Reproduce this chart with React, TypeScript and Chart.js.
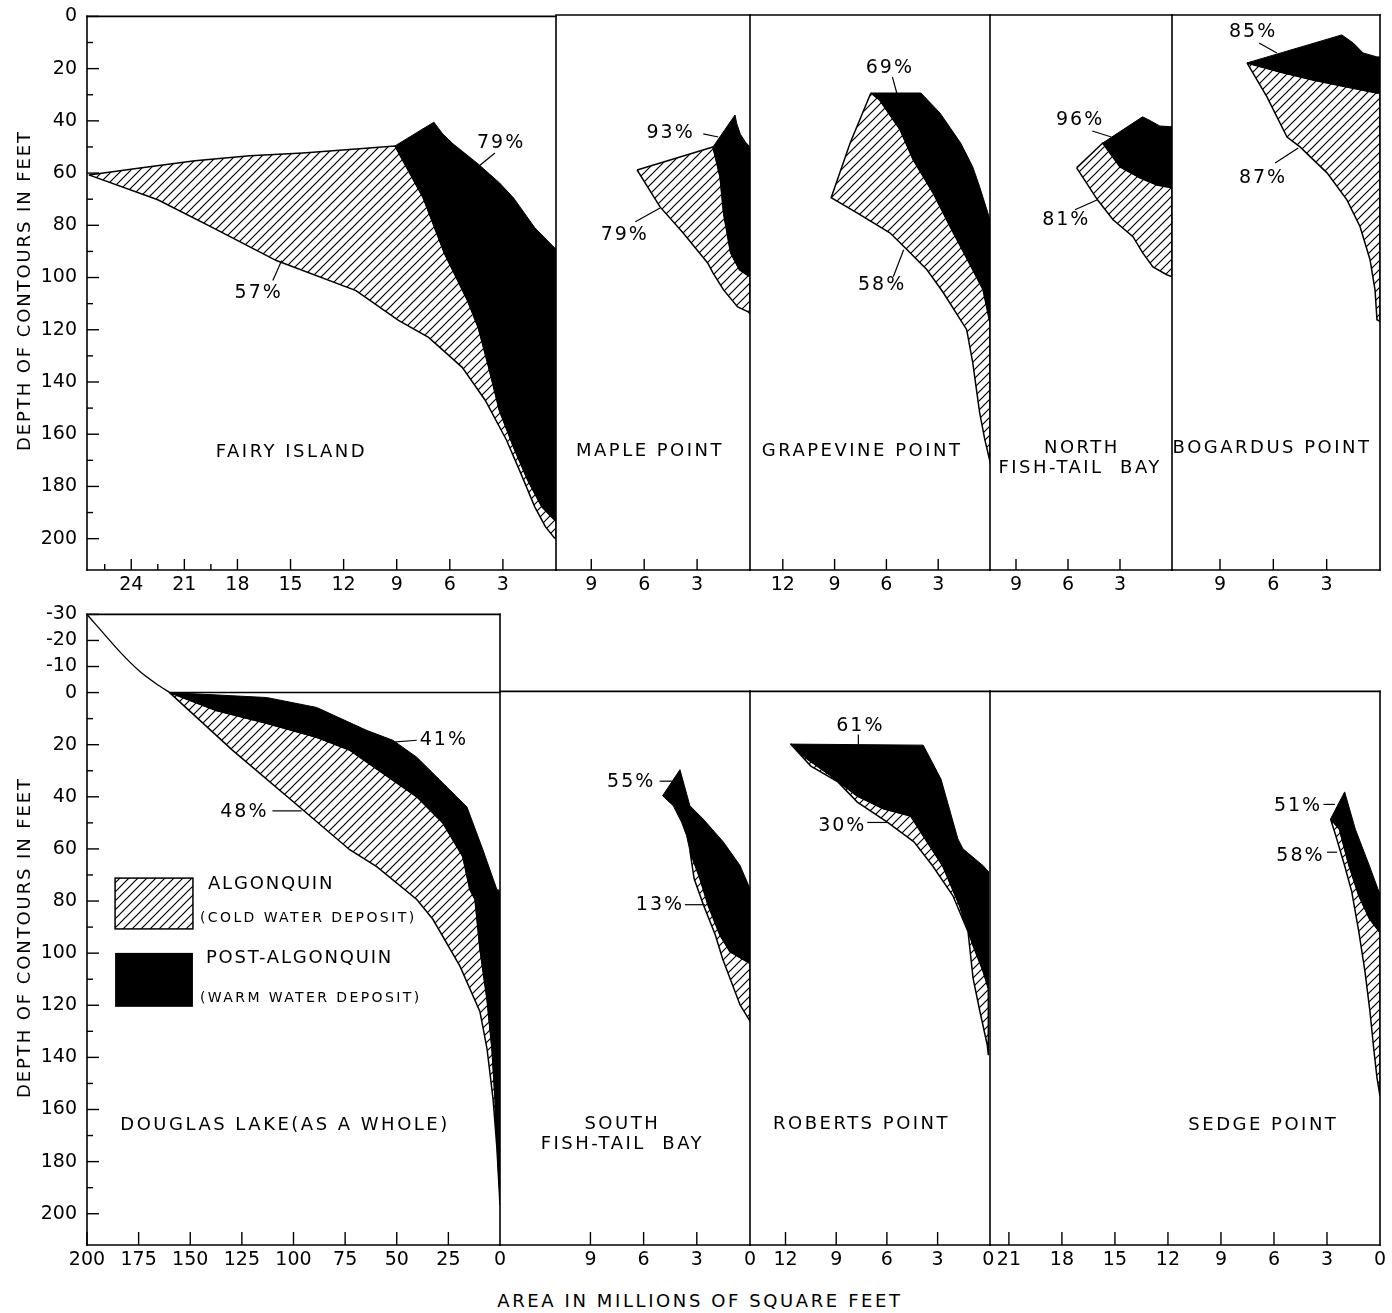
import React, { useEffect, useRef } from 'react';
import { Chart, registerables } from 'chart.js';

Chart.register(...registerables);

type Pt = [number, number];
const FONT = '"DejaVu Sans", "Liberation Sans", sans-serif';

// ---------------- tick values ----------------
const depthTicksTop = [0, 10, 20, 30, 40, 50, 60, 70, 80, 90, 100, 110, 120, 130, 140, 150, 160, 170, 180, 190, 200];
const depthLabelsTop = [0, 20, 40, 60, 80, 100, 120, 140, 160, 180, 200];
const depthTicksBottom = [-30, -20, -10, 0, 10, 20, 30, 40, 50, 60, 70, 80, 90, 100, 110, 120, 130, 140, 150, 160, 170, 180, 190, 200];
const depthLabelsBottom = [-30, -20, -10, 0, 20, 40, 60, 80, 100, 120, 140, 160, 180, 200];

const fairyTicks = [24, 21, 18, 15, 12, 9, 6, 3];
const fairyMinorTicks = [25.5, 22.5, 19.5];
const mapleTicks = [9, 6, 3];
const grapeTicks = [12, 9, 6, 3];
const nftbTicks = [9, 6, 3];
const bogTicks = [9, 6, 3];
const douglasTicks = [200, 175, 150, 125, 100, 75, 50, 25, 0];
const sftbTicks = [9, 6, 3, 0];
const robTicks = [12, 9, 6, 3, 0];
const sedgeTicks = [21, 18, 15, 12, 9, 6, 3, 0];

// ---------------- data: [area (millions sq ft), depth (ft)] ----------------
// Fairy Island
const fairyAlgUpper: Pt[] = [[26.4, 60.7], [23.4, 58], [20.4, 55.3], [17.3, 53.4], [14.3, 52.3], [11.3, 50.8], [9.1, 49.6], [7.5, 69.5], [6.3, 90.8], [5.0, 108.8], [4.4, 119], [3.8, 134.4], [3.2, 150.8], [2.4, 164.9], [1.6, 177.5], [0.8, 187.8], [0.1, 192.7], [0, 193]];
const fairyAlgLower: Pt[] = [[26.4, 60.7], [22.5, 70.2], [19.4, 80.9], [15.8, 93.5], [11.3, 105], [8.9, 116.4], [7.2, 122.9], [5.3, 134.4], [4.0, 147], [2.8, 162.2], [2.0, 174.8], [1.2, 187.8], [0.6, 195.4], [0.1, 199.6], [0, 200]];
const fairyPostTop: Pt[] = [[9.1, 49.6], [6.9, 40.5], [6.4, 45], [5.8, 48.9], [4.4, 56.5], [3.2, 63.7], [2.4, 69.5], [1.2, 80.9], [0.1, 88.5], [0, 89]];
const fairyPostBottom: Pt[] = [[9.1, 49.6], [7.5, 69.5], [6.3, 90.8], [5.0, 108.8], [4.4, 119], [3.8, 134.4], [3.2, 150.8], [2.4, 164.9], [1.6, 177.5], [0.8, 187.8], [0.1, 192.7], [0, 193]];

// Maple Point
const mapleAlgUpper: Pt[] = [[6.4, 59.2], [2.1, 50.4], [1.7, 61.8], [1.5, 75.6], [1.1, 90.8], [0.6, 97.3], [0, 100]];
const mapleAlgLower: Pt[] = [[6.4, 59.2], [5.1, 73.3], [3.8, 83.2], [2.4, 94.7], [2.1, 98.5], [1.5, 105], [0.7, 111.5], [0.1, 113.4], [0, 114]];
const maplePostTop: Pt[] = [[2.1, 50.4], [0.85, 38.2], [0.75, 41.5], [0.55, 45.5], [0.25, 48.6], [0, 50.4]];
const maplePostBottom: Pt[] = [[2.1, 50.4], [1.7, 61.8], [1.5, 75.6], [1.1, 90.8], [0.6, 97.3], [0, 100]];

// Grapevine Point
const grapeAlgUpper: Pt[] = [[6.9, 29.8], [6.4, 32.4], [5.2, 43.9], [4.45, 55.3], [3.3, 67.9], [2.3, 80.9], [1.3, 93.5], [0.4, 104.9], [0, 117.6]];
const grapeAlgLower: Pt[] = [[6.9, 29.8], [8.1, 48.9], [9.2, 69.8], [7.7, 75.6], [5.8, 83.2], [4.8, 89.7], [3.65, 97.3], [2.7, 106.1], [1.35, 120.2], [1.0, 132.8], [0.6, 151.9], [0.3, 162.2], [0, 170.6]];
const grapePostTop: Pt[] = [[6.9, 29.8], [4.0, 29.8], [2.9, 37.4], [1.7, 48.9], [1.0, 58], [0.6, 65.6], [0, 78.2]];
const grapePostBottom: Pt[] = [[6.9, 29.8], [6.4, 32.4], [5.2, 43.9], [4.45, 55.3], [3.3, 67.9], [2.3, 80.9], [1.3, 93.5], [0.4, 104.9], [0, 117.6]];

// North Fish-Tail Bay
const nftbAlgUpper: Pt[] = [[5.5, 58.4], [4.0, 48.9], [3.0, 58], [1.85, 62.2], [0.87, 64.9], [0, 66]];
const nftbAlgLower: Pt[] = [[5.5, 58.4], [4.3, 70.6], [3.4, 78.2], [2.25, 84.7], [1.7, 90.8], [1.1, 96.2], [0.3, 99.2], [0, 100]];
const nftbPostTop: Pt[] = [[4.0, 48.9], [1.7, 38.9], [1.3, 40.2], [0.7, 42.4], [0, 42.7]];
const nftbPostBottom: Pt[] = [[4.0, 48.9], [3.0, 58], [1.85, 62.2], [0.87, 64.9], [0, 66]];

// Bogardus Point
const bogAlgUpper: Pt[] = [[7.48, 18.3], [5.62, 21.8], [3.77, 24.8], [1.86, 27.5], [0.17, 29.8], [0, 29.8]];
const bogAlgLower: Pt[] = [[7.48, 18.3], [6.36, 31.3], [5.23, 46.6], [4.5, 50.4], [2.98, 60.3], [1.86, 70.6], [1.12, 80.9], [0.56, 93.5], [0.28, 105], [0.17, 116.4], [0, 117]];
const bogPostTop: Pt[] = [[7.48, 18.3], [2.15, 7.6], [1.5, 10.7], [0.95, 14.5], [0.17, 16], [0, 16]];
const bogPostBottom: Pt[] = [[7.48, 18.3], [5.62, 21.8], [3.77, 24.8], [1.86, 27.5], [0.17, 29.8], [0, 29.8]];

// Douglas Lake (as a whole)
const douglasAbove: Pt[] = [[200, -30], [184.5, -16], [174.8, -8.4], [166.5, -3.4], [160, 0]];
const douglasPostTop: Pt[] = [[160, 0], [113, 1.9], [88.8, 5.7], [64.6, 14.5], [51.9, 18.3], [40.3, 24.8], [27.7, 34.7], [16, 43.9], [8.3, 60.3], [1.5, 75.6], [0, 76]];
const douglasPostBottom: Pt[] = [[160, 0], [137.4, 6.9], [113.1, 11.8], [88.8, 17.2], [72.8, 22.1], [56.8, 30.9], [40.3, 40], [27.7, 50], [18, 63], [14.6, 75.6], [12.1, 79.4], [9.7, 98.5], [6.3, 117.6], [3.9, 136.6], [2.4, 155.7], [1.0, 181.3], [0, 194]];
const douglasAlgUpper: Pt[] = douglasPostBottom;
const douglasAlgLower: Pt[] = [[160, 0], [129.6, 22.1], [97.1, 43.9], [72.8, 60.3], [59.7, 66.8], [40.3, 79.4], [32.5, 87], [19.4, 105], [9.7, 122.5], [6.3, 136.6], [3.4, 155.7], [1.5, 174.8], [0, 196.6]];

// South Fish-Tail Bay
const sftbPostTop: Pt[] = [[4.93, 40], [3.95, 30], [3.39, 43.8], [2.64, 48.9], [1.5, 57.7], [0.56, 66.7], [0, 75.6]];
const sftbPostBottom: Pt[] = [[4.93, 40], [4.33, 43.8], [3.86, 50.1], [3.58, 55.2], [3.39, 61], [2.82, 71.8], [2.36, 81.9], [1.69, 93.4], [1.13, 99.7], [0, 104.2]];
const sftbAlgUpper: Pt[] = [[3.39, 61], [2.82, 71.8], [2.36, 81.9], [1.69, 93.4], [1.13, 99.7], [0, 104.2]];
const sftbAlgLower: Pt[] = [[3.39, 61], [3.15, 71.8], [2.62, 81.9], [1.95, 93.4], [1.55, 102.3], [1.13, 109.9], [0.56, 120.1], [0, 126.3]];

// Roberts Point
const robPostTop: Pt[] = [[11.7, 20.2], [3.85, 20.6], [2.8, 33.6], [1.8, 56.5], [1.5, 60.3], [0.3, 66.8], [0, 69]];
const robPostBottom: Pt[] = [[11.7, 20.2], [10.7, 26], [9.3, 32.4], [7.75, 40.1], [6.2, 45], [4.6, 47.7], [3.85, 55.3], [2.7, 66.8], [1.7, 82.1], [0.9, 97.3], [0.3, 107.3], [0, 113.7]];
const robAlgUpper: Pt[] = robPostBottom;
const robAlgLower: Pt[] = [[11.7, 20.2], [10.5, 28.6], [8.9, 34.7], [7.75, 42.4], [6.0, 50], [4.4, 57.6], [3.3, 66.8], [2.1, 78.2], [1.2, 92], [0.9, 109.9], [0.5, 122.5], [0.06, 135.5], [0, 139.3]];

// Sedge Point
const sedgePostTop: Pt[] = [[2.8, 48.9], [2.0, 38.5], [1.4, 52.7], [0.6, 66.8], [0.06, 76.7], [0, 77]];
const sedgePostBottom: Pt[] = [[2.8, 48.9], [2.3, 52.7], [1.75, 66.8], [1.2, 78.2], [0.6, 87], [0, 92.4]];
const sedgeAlgUpper: Pt[] = sedgePostBottom;
const sedgeAlgLower: Pt[] = [[2.8, 48.9], [2.5, 55.3], [2.0, 66.8], [1.6, 76.7], [1.2, 92], [0.85, 107.3], [0.57, 122.5], [0.34, 137.8], [0.17, 148], [0, 155]];

// ---------------- percentage notes: text, label (x,y), leader (x1,y1,x2,y2) ----------------
type Note = { t: string; x: number; y: number; l: [number, number, number, number] };
const fairyNotes: Note[] = [
  { t: '79%', x: 3.1, y: 48.5, l: [3.45, 52.3, 4.35, 57.3] },
  { t: '57%', x: 16.8, y: 106, l: [16.0, 101.1, 15.5, 93.5] },
];
const mapleNotes: Note[] = [
  { t: '93%', x: 4.5, y: 45, l: [2.65, 45.4, 1.8, 46.6] },
  { t: '79%', x: 7.1, y: 84, l: [6.5, 79, 5.1, 73.7] },
];
const grapeNotes: Note[] = [
  { t: '69%', x: 5.8, y: 20.2, l: [5.65, 23.7, 5.4, 29.8] },
  { t: '58%', x: 6.25, y: 103, l: [5.6, 100, 5.0, 89.7] },
];
const nftbNotes: Note[] = [
  { t: '96%', x: 5.3, y: 40.1, l: [4.6, 44.3, 3.5, 46.6] },
  { t: '81%', x: 6.1, y: 78.2, l: [5.6, 74.4, 4.3, 70.6] },
];
const bogNotes: Note[] = [
  { t: '85%', x: 7.14, y: 6.5, l: [6.8, 10.7, 5.8, 14.5] },
  { t: '87%', x: 6.58, y: 62.2, l: [5.9, 56.5, 4.6, 50.8] },
];
const douglasNotes: Note[] = [
  { t: '41%', x: 27.2, y: 18.3, l: [40.3, 18.3, 53.4, 19.1] },
  { t: '48%', x: 123.8, y: 45.8, l: [110.2, 45.4, 96.1, 45.4] },
];
const sftbNotes: Note[] = [
  { t: '55%', x: 6.7, y: 34.7, l: [5.1, 34.4, 4.35, 34.4] },
  { t: '13%', x: 5.08, y: 82, l: [3.67, 81.7, 2.54, 81.7] },
];
const robNotes: Note[] = [
  { t: '61%', x: 7.57, y: 13.4, l: [7.69, 16.5, 7.69, 20.3] },
  { t: '30%', x: 8.64, y: 51.7, l: [7.16, 50.2, 5.98, 50.2] },
];
const sedgeNotes: Note[] = [
  { t: '51%', x: 4.64, y: 44, l: [3.2, 43.3, 2.55, 43.3] },
  { t: '58%', x: 4.5, y: 63.2, l: [3.0, 61.6, 2.43, 61.6] },
];

// ---------------- panel names ----------------
type Name = { t: string; x: number; y: number };
const fairyName: Name[] = [{ t: 'FAIRY ISLAND', x: 14.95, y: 166.9 }];
const mapleName: Name[] = [{ t: 'MAPLE POINT', x: 5.67, y: 166.5 }];
const grapeName: Name[] = [{ t: 'GRAPEVINE POINT', x: 7.41, y: 166.5 }];
const nftbName: Name[] = [{ t: 'NORTH', x: 5.2, y: 165.6 }, { t: 'FISH-TAIL  BAY', x: 5.3, y: 173.3 }];
const bogName: Name[] = [{ t: 'BOGARDUS POINT', x: 6.07, y: 165.4 }];
const douglasName: Name[] = [{ t: 'DOUGLAS LAKE(AS A WHOLE)', x: 104.1, y: 166.2 }];
const sftbName: Name[] = [{ t: 'SOUTH', x: 7.2, y: 165.8 }, { t: 'FISH-TAIL  BAY', x: 7.2, y: 173.4 }];
const robName: Name[] = [{ t: 'ROBERTS POINT', x: 7.5, y: 165.8 }];
const sedgeName: Name[] = [{ t: 'SEDGE POINT', x: 6.6, y: 166.2 }];

// legend (in Douglas panel coordinates)
const legendHatchBox = [186.4, 71.2, 148.7, 90.7];
const legendPostBox = [186.4, 99.9, 148.7, 120.6];
const legendTexts = [
  { t: 'ALGONQUIN', x: 141.4, y: 73.5, size: 18 },
  { t: '(COLD WATER DEPOSIT)', x: 145.3, y: 86.5, size: 14 },
  { t: 'POST-ALGONQUIN', x: 142.4, y: 101.8, size: 18 },
  { t: '(WARM WATER DEPOSIT)', x: 145.3, y: 117.2, size: 14 },
];

// ---------------- layout ----------------
type Row = { top: number; bottom: number; yMin: number; yMax: number; yTicks: number[]; yLabels: number[]; tickLen: number; titleDepth: number };
const ROW1: Row = { top: 15, bottom: 570, yMin: 0, yMax: 212, yTicks: depthTicksTop, yLabels: depthLabelsTop, tickLen: 11, titleDepth: 105 };
const ROW2: Row = { top: 613, bottom: 1245, yMin: -30, yMax: 212, yTicks: depthTicksBottom, yLabels: depthLabelsBottom, tickLen: 13, titleDepth: 94 };

type PanelCfg = {
  id: string; row: Row; left: number; right: number; xMin: number; xMax: number; showY: boolean;
  xTicks: number[]; xMinor?: number[]; frameTop: number; zeroFrom?: number;
  algUpper: Pt[]; algLower: Pt[]; postTop: Pt[]; postBottom: Pt[]; above?: Pt[];
  notes: Note[]; names: Name[]; legend?: boolean;
};

const panels: PanelCfg[] = [
  { id: 'fairy', row: ROW1, left: 87, right: 556, xMin: 0, xMax: 26.5, showY: true, xTicks: fairyTicks, xMinor: fairyMinorTicks, frameTop: 0, algUpper: fairyAlgUpper, algLower: fairyAlgLower, postTop: fairyPostTop, postBottom: fairyPostBottom, notes: fairyNotes, names: fairyName },
  { id: 'maple', row: ROW1, left: 556, right: 750, xMin: 0, xMax: 11.0, showY: false, xTicks: mapleTicks, frameTop: 0, algUpper: mapleAlgUpper, algLower: mapleAlgLower, postTop: maplePostTop, postBottom: maplePostBottom, notes: mapleNotes, names: mapleName },
  { id: 'grape', row: ROW1, left: 750, right: 990, xMin: 0, xMax: 13.9, showY: false, xTicks: grapeTicks, frameTop: 0, algUpper: grapeAlgUpper, algLower: grapeAlgLower, postTop: grapePostTop, postBottom: grapePostBottom, notes: grapeNotes, names: grapeName },
  { id: 'nftb', row: ROW1, left: 990, right: 1172, xMin: 0, xMax: 10.5, showY: false, xTicks: nftbTicks, frameTop: 0, algUpper: nftbAlgUpper, algLower: nftbAlgLower, postTop: nftbPostTop, postBottom: nftbPostBottom, notes: nftbNotes, names: nftbName },
  { id: 'bog', row: ROW1, left: 1172, right: 1380, xMin: 0, xMax: 11.7, showY: false, xTicks: bogTicks, frameTop: 0, algUpper: bogAlgUpper, algLower: bogAlgLower, postTop: bogPostTop, postBottom: bogPostBottom, notes: bogNotes, names: bogName },
  { id: 'douglas', row: ROW2, left: 87, right: 500, xMin: 0, xMax: 200, showY: true, xTicks: douglasTicks, frameTop: -30, zeroFrom: 160, algUpper: douglasAlgUpper, algLower: douglasAlgLower, postTop: douglasPostTop, postBottom: douglasPostBottom, above: douglasAbove, notes: douglasNotes, names: douglasName, legend: true },
  { id: 'sftb', row: ROW2, left: 500, right: 750, xMin: 0, xMax: 14.1, showY: false, xTicks: sftbTicks, frameTop: 0, algUpper: sftbAlgUpper, algLower: sftbAlgLower, postTop: sftbPostTop, postBottom: sftbPostBottom, notes: sftbNotes, names: sftbName },
  { id: 'rob', row: ROW2, left: 750, right: 990, xMin: -0.1, xMax: 14.1, showY: false, xTicks: robTicks, frameTop: 0, algUpper: robAlgUpper, algLower: robAlgLower, postTop: robPostTop, postBottom: robPostBottom, notes: robNotes, names: robName },
  { id: 'sedge', row: ROW2, left: 990, right: 1380, xMin: 0, xMax: 22.07, showY: false, xTicks: sedgeTicks, frameTop: 0, algUpper: sedgeAlgUpper, algLower: sedgeAlgLower, postTop: sedgePostTop, postBottom: sedgePostBottom, notes: sedgeNotes, names: sedgeName },
];

const PT = 20, PR = 22, PLN = 22, XH = 40;

function outline(a: Pt[], b: Pt[]) {
  const pts = [...a, ...b.slice().reverse()];
  pts.push(a[0]);
  return pts.map(([x, y]) => ({ x, y }));
}

function makeHatch(ctx: CanvasRenderingContext2D): CanvasPattern {
  const s = 9;
  const c = document.createElement('canvas');
  c.width = s; c.height = s;
  const g = c.getContext('2d')!;
  g.fillStyle = '#fff';
  g.fillRect(0, 0, s, s);
  g.strokeStyle = '#000';
  g.lineWidth = 1.2;
  g.beginPath();
  g.moveTo(-1, s + 1); g.lineTo(s + 1, -1);
  g.moveTo(-1, 1); g.lineTo(1, -1);
  g.moveTo(s - 1, s + 1); g.lineTo(s + 1, s - 1);
  g.stroke();
  return ctx.createPattern(c, 'repeat')!;
}

function decoPlugin(p: PanelCfg, hatch: CanvasPattern) {
  return {
    id: 'deco',
    afterDraw(chart: any) {
      const { ctx, chartArea } = chart;
      const { left, right, bottom } = chartArea;
      const xs = chart.scales.x, ys = chart.scales.y;
      const X = (v: number) => xs.getPixelForValue(v);
      const Y = (v: number) => ys.getPixelForValue(v);
      const seg = (x1: number, y1: number, x2: number, y2: number) => {
        ctx.beginPath(); ctx.moveTo(x1, y1); ctx.lineTo(x2, y2); ctx.stroke();
      };
      ctx.save();
      ctx.strokeStyle = '#000';
      ctx.fillStyle = '#000';
      ctx.lineWidth = 1.6;
      ctx.lineCap = 'square';
      const yTop = Y(p.frameTop);
      seg(left, yTop, right, yTop);
      if (p.zeroFrom !== undefined) seg(X(p.zeroFrom), Y(0), right, Y(0));
      seg(right, yTop, right, bottom);
      seg(left, bottom, right, bottom);
      if (p.showY) seg(left, yTop, left, bottom);

      ctx.lineWidth = 1.4;
      ctx.lineCap = 'butt';
      for (const v of p.xTicks) {
        if (v === 0) continue;
        const px = X(v);
        seg(px, bottom, px, bottom - p.row.tickLen);
      }
      for (const v of p.xMinor ?? []) {
        const px = X(v);
        seg(px, bottom, px, bottom - 6);
      }
      if (p.showY) {
        for (const v of p.row.yTicks) {
          const py = Y(v);
          const len = p.row.yLabels.includes(v) ? 12 : 6;
          seg(left, py, left + len, py);
        }
        ctx.save();
        ctx.translate(25, Y(p.row.titleDepth));
        ctx.rotate(-Math.PI / 2);
        ctx.font = `18px ${FONT}`;
        ctx.letterSpacing = '1.9px';
        ctx.textAlign = 'center';
        ctx.textBaseline = 'middle';
        ctx.fillText('DEPTH OF CONTOURS IN FEET', 0, 0);
        ctx.restore();
      }

      // percentage notes
      ctx.lineWidth = 1.2;
      ctx.font = `19px ${FONT}`;
      ctx.letterSpacing = '2px';
      ctx.textAlign = 'center';
      ctx.textBaseline = 'middle';
      for (const n of p.notes) {
        seg(X(n.l[0]), Y(n.l[1]), X(n.l[2]), Y(n.l[3]));
        ctx.fillText(n.t, X(n.x), Y(n.y));
      }
      // panel names
      ctx.font = `18px ${FONT}`;
      ctx.letterSpacing = '2.5px';
      for (const n of p.names) ctx.fillText(n.t, X(n.x), Y(n.y));

      // legend
      if (p.legend) {
        const hb = legendHatchBox, pb = legendPostBox;
        ctx.fillStyle = hatch;
        ctx.fillRect(X(hb[0]), Y(hb[1]), X(hb[2]) - X(hb[0]), Y(hb[3]) - Y(hb[1]));
        ctx.lineWidth = 1.5;
        ctx.strokeRect(X(hb[0]), Y(hb[1]), X(hb[2]) - X(hb[0]), Y(hb[3]) - Y(hb[1]));
        ctx.fillStyle = '#000';
        ctx.fillRect(X(pb[0]), Y(pb[1]), X(pb[2]) - X(pb[0]), Y(pb[3]) - Y(pb[1]));
        ctx.textAlign = 'left';
        for (const t of legendTexts) {
          ctx.font = `${t.size}px ${FONT}`;
          ctx.letterSpacing = t.size > 15 ? '1.8px' : '2.4px';
          ctx.fillText(t.t, X(t.x), Y(t.y));
        }
      }
      ctx.letterSpacing = '0px';
      ctx.restore();
    },
  };
}

function Panel({ p }: { p: PanelCfg }) {
  const ref = useRef<HTMLCanvasElement>(null);
  const PL = p.showY ? 0 : PLN;
  const canvasLeft = p.showY ? 0 : p.left - PL;
  const yAxisW = p.showY ? p.left : 0;
  const W = p.right + PR - canvasLeft;
  const H = PT + (p.row.bottom - p.row.top) + XH;
  const top = p.row.top - PT;

  useEffect(() => {
    const canvas = ref.current!;
    const ctx = canvas.getContext('2d')!;
    const hatch = makeHatch(ctx);
    const datasets: any[] = [
      {
        label: 'Algonquin', data: outline(p.algUpper, p.algLower), fill: 'shape',
        backgroundColor: hatch, borderColor: '#000', borderWidth: 1.5, pointRadius: 0, tension: 0, order: 2,
      },
      {
        label: 'Post-Algonquin', data: outline(p.postTop, p.postBottom), fill: 'shape',
        backgroundColor: '#000', borderColor: '#000', borderWidth: 1, pointRadius: 0, tension: 0, order: 1,
      },
    ];
    if (p.above) {
      datasets.push({
        label: 'Above', data: p.above.map(([x, y]) => ({ x, y })), fill: false,
        borderColor: '#000', borderWidth: 1.3, pointRadius: 0, tension: 0.2, order: 0,
      });
    }
    const chart = new Chart(canvas, {
      type: 'line',
      data: { datasets },
      options: {
        animation: false,
        responsive: false,
        maintainAspectRatio: false,
        devicePixelRatio: 1,
        events: [],
        layout: { padding: { top: PT, right: PR, bottom: 0, left: PL } },
        plugins: { legend: { display: false }, tooltip: { enabled: false } },
        scales: {
          x: {
            type: 'linear', min: p.xMin, max: p.xMax, reverse: true,
            afterBuildTicks: (s: any) => { s.ticks = p.xTicks.map((v) => ({ value: v })); },
            afterFit: (s: any) => { s.height = XH; },
            ticks: {
              autoSkip: false, maxRotation: 0, minRotation: 0, padding: 4, color: '#000',
              font: { family: FONT, size: 19 }, callback: (v: any) => String(v),
            },
            grid: { display: false, drawTicks: false },
            border: { display: false },
          },
          y: {
            type: 'linear', min: p.row.yMin, max: p.row.yMax, reverse: true, display: p.showY,
            afterBuildTicks: (s: any) => { s.ticks = p.row.yTicks.map((v) => ({ value: v })); },
            afterFit: (s: any) => { s.width = yAxisW; },
            ticks: {
              autoSkip: false, padding: 10, color: '#000',
              font: { family: FONT, size: 19 },
              callback: (v: any) => (p.row.yLabels.includes(Number(v)) ? String(v) : ''),
            },
            grid: { display: false, drawTicks: false },
            border: { display: false },
          },
        },
      } as any,
      plugins: [decoPlugin(p, hatch)],
    });
    return () => chart.destroy();
  }, []);

  return (
    <canvas
      ref={ref}
      width={W}
      height={H}
      style={{ position: 'absolute', left: canvasLeft, top, width: W, height: H }}
    />
  );
}

export default function App() {
  return (
    <div style={{ position: 'absolute', left: 0, top: 0, width: 1392, height: 1313, background: '#fff', overflow: 'hidden' }}>
      {panels.map((p) => <Panel key={p.id} p={p} />)}
      <div
        style={{
          position: 'absolute', left: 450, top: 1290, width: 500, textAlign: 'center',
          fontFamily: FONT, fontSize: 18, letterSpacing: '2.6px', lineHeight: '22px', color: '#000',
        }}
      >
        AREA IN MILLIONS OF SQUARE FEET
      </div>
    </div>
  );
}
